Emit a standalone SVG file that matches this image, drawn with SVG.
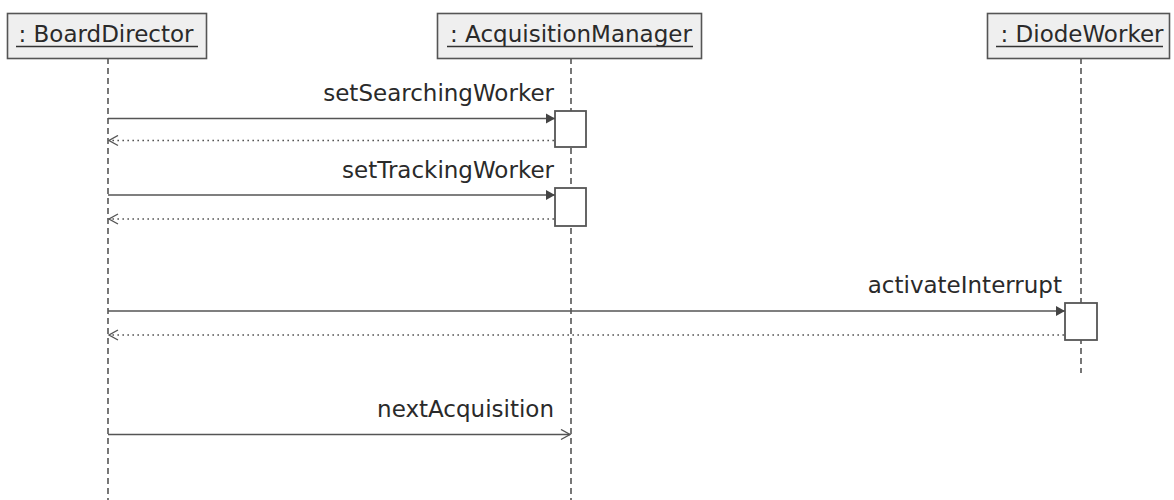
<svg xmlns="http://www.w3.org/2000/svg" width="1174" height="500" viewBox="0 0 1174 500">
<style>
.hdr{fill:#efefef;stroke:#555;stroke-width:1.6}
.htxt{font-family:"DejaVu Sans",sans-serif;font-size:23px;fill:#2a2a2a;text-anchor:middle}
.ul{stroke:#333;stroke-width:1.6}
.life{stroke:#555;stroke-width:1.6;stroke-dasharray:6 4;fill:none}
.act{fill:#fff;stroke:#555;stroke-width:1.8}
.msg{stroke:#555;stroke-width:1.6;fill:none}
.ret{stroke:#555;stroke-width:1.6;stroke-dasharray:1.6 3.4;fill:none}
.lbl{font-family:"DejaVu Sans",sans-serif;font-size:23px;fill:#2a2a2a;text-anchor:end}
</style>
<defs>
<marker id="filled" markerWidth="10" markerHeight="11" refX="9" refY="5.5" orient="auto" markerUnits="userSpaceOnUse">
<path d="M0,0.5 L9,5.5 L0,10.5 Z" fill="#444"/>
</marker>
<marker id="open" markerWidth="12" markerHeight="12" refX="10" refY="6" orient="auto" markerUnits="userSpaceOnUse">
<path d="M1,1 L10,6 L1,11" fill="none" stroke="#555" stroke-width="1.4"/>
</marker>
</defs>
<g id="lifelines">
<line class="life" x1="108" y1="58" x2="108" y2="500"/>
<line class="life" x1="571" y1="58" x2="571" y2="500"/>
<line class="life" x1="1081" y1="58" x2="1081" y2="373"/>
</g>
<g id="BoardDirector">
<rect class="hdr" x="7.5" y="13.5" width="199" height="45"/>
<text class="htxt" x="106" y="42">: BoardDirector</text>
<line class="ul" x1="16" y1="46.5" x2="198" y2="46.5"/>
</g>
<g id="AcquisitionManager">
<rect class="hdr" x="437.5" y="13.5" width="264" height="45"/>
<text class="htxt" x="571" y="42">: AcquisitionManager</text>
<line class="ul" x1="447" y1="46.5" x2="693" y2="46.5"/>
</g>
<g id="DiodeWorker">
<rect class="hdr" x="987.5" y="13.5" width="182" height="45"/>
<text class="htxt" x="1082" y="42">: DiodeWorker</text>
<line class="ul" x1="996" y1="46.5" x2="1163" y2="46.5"/>
</g>
<g id="activations">
<rect class="act" x="555" y="111" width="31" height="36"/>
<rect class="act" x="555" y="188" width="31" height="38"/>
<rect class="act" x="1065" y="303" width="32" height="37"/>
</g>
<g id="connectors">
<line class="msg" x1="108" y1="118.5" x2="555" y2="118.5" marker-end="url(#filled)"/>
<line class="ret" x1="554" y1="140.5" x2="109" y2="140.5" marker-end="url(#open)"/>
<line class="msg" x1="108" y1="195" x2="555" y2="195" marker-end="url(#filled)"/>
<line class="ret" x1="554" y1="219" x2="109" y2="219" marker-end="url(#open)"/>
<line class="msg" x1="108" y1="311" x2="1065" y2="311" marker-end="url(#filled)"/>
<line class="ret" x1="1064" y1="335" x2="109" y2="335" marker-end="url(#open)"/>
<line class="msg" x1="108" y1="434.5" x2="570" y2="434.5" marker-end="url(#open)"/>
</g>
<g id="labels">
<text class="lbl" x="554" y="101">setSearchingWorker</text>
<text class="lbl" x="554" y="178">setTrackingWorker</text>
<text class="lbl" x="1062" y="293">activateInterrupt</text>
<text class="lbl" x="554" y="417">nextAcquisition</text>
</g>
</svg>
